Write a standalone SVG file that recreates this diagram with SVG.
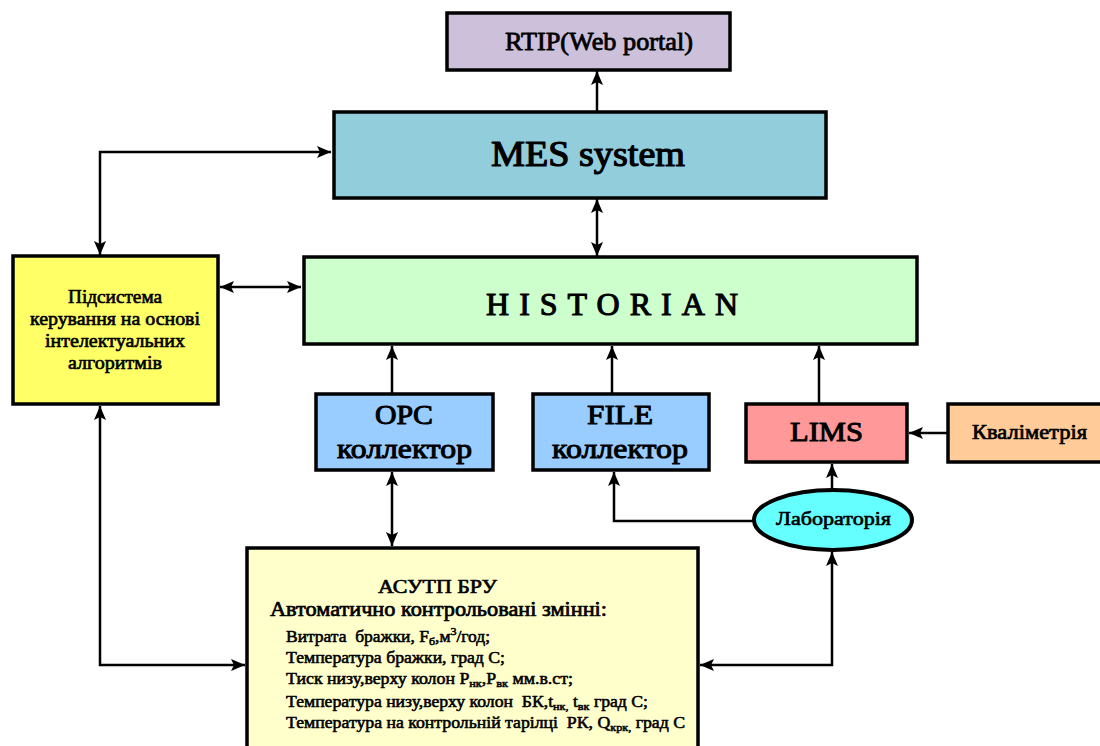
<svg xmlns="http://www.w3.org/2000/svg" width="1100" height="746" viewBox="0 0 1100 746">
<style>
.box{stroke:#000;stroke-width:3.5}
text{font-family:'Liberation Serif','Times New Roman',serif;font-weight:normal;fill:#000;stroke:#000;stroke-linejoin:round}
.c{fill:none;stroke:#000;stroke-width:2.5}
</style>
<defs>
<marker id="ah" markerUnits="userSpaceOnUse" markerWidth="16" markerHeight="14" refX="14" refY="6" orient="auto-start-reverse">
<path d="M0,0 L14,6 L0,12 L3,6 z" fill="#000"/>
</marker>
</defs>
<rect width="1100" height="746" fill="#fff"/>
<g id="connectors">
<path class="c" d="M597,112 L597,71" marker-end="url(#ah)"/>
<path class="c" d="M597,199 L597,256" marker-start="url(#ah)" marker-end="url(#ah)"/>
<path class="c" d="M100,255 L100,152 L331,152" marker-start="url(#ah)" marker-end="url(#ah)"/>
<path class="c" d="M220,287 L301,287" marker-start="url(#ah)" marker-end="url(#ah)"/>
<path class="c" d="M392,393 L392,346" marker-end="url(#ah)"/>
<path class="c" d="M612,393 L612,346" marker-end="url(#ah)"/>
<path class="c" d="M819,403 L819,346" marker-end="url(#ah)"/>
<path class="c" d="M947,433 L909,433" marker-end="url(#ah)"/>
<path class="c" d="M832,490 L832,464" marker-end="url(#ah)"/>
<path class="c" d="M754,521 L614,521 L614,472" marker-end="url(#ah)"/>
<path class="c" d="M392,472 L392,546" marker-start="url(#ah)" marker-end="url(#ah)"/>
<path class="c" d="M100,406 L100,665 L245,665" marker-start="url(#ah)" marker-end="url(#ah)"/>
<path class="c" d="M832,552 L832,665 L700,665" marker-start="url(#ah)" marker-end="url(#ah)"/>
</g>
<g id="rtip">
<rect class="box" x="447" y="13" width="283" height="57" fill="#CCC0DA" stroke-width="3"/>
<text x="505" y="50" font-size="25" stroke-width="0.8" textLength="188" lengthAdjust="spacingAndGlyphs">RTIP(Web portal)</text>
</g>
<g id="mes">
<rect class="box" x="334" y="112" width="492" height="86" fill="#92CDDC" stroke-width="3"/>
<text x="491" y="166" font-size="36" stroke-width="1.2" textLength="194" lengthAdjust="spacingAndGlyphs">MES system</text>
</g>
<g id="historian">
<rect class="box" x="304" y="257" width="613" height="87" fill="#CCFFCC" stroke-width="4"/>
<text x="486" y="315" font-size="32" stroke-width="1.1" textLength="252" lengthAdjust="spacing">HISTORIAN</text>
</g>
<g id="subsystem">
<rect class="box" x="13" y="256" width="205" height="148" fill="#FFFF66" stroke-width="4"/>
<text x="68" y="303" font-size="19" stroke-width="0.65" textLength="94" lengthAdjust="spacingAndGlyphs">Підсистема</text>
<text x="30" y="325" font-size="19" stroke-width="0.65" textLength="170" lengthAdjust="spacingAndGlyphs">керування на основі</text>
<text x="45" y="347" font-size="19" stroke-width="0.65" textLength="140" lengthAdjust="spacingAndGlyphs">інтелектуальних</text>
<text x="68" y="369" font-size="19" stroke-width="0.65" textLength="94" lengthAdjust="spacingAndGlyphs">алгоритмів</text>
</g>
<g id="opc">
<rect class="box" x="316" y="394" width="177" height="76" fill="#99CCFF" stroke-width="4"/>
<text x="375" y="424" font-size="28" stroke-width="1" textLength="58" lengthAdjust="spacingAndGlyphs">OPC</text>
<text x="337" y="458" font-size="28" stroke-width="1" textLength="135" lengthAdjust="spacingAndGlyphs">коллектор</text>
</g>
<g id="file">
<rect class="box" x="533" y="394" width="176" height="76" fill="#99CCFF" stroke-width="4"/>
<text x="587" y="424" font-size="28" stroke-width="1" textLength="66" lengthAdjust="spacingAndGlyphs">FILE</text>
<text x="552" y="458" font-size="28" stroke-width="1" textLength="136" lengthAdjust="spacingAndGlyphs">коллектор</text>
</g>
<g id="lims">
<rect class="box" x="746" y="404" width="161" height="58" fill="#FF9999" stroke-width="4"/>
<text x="790" y="441" font-size="28" stroke-width="1" textLength="73" lengthAdjust="spacingAndGlyphs">LIMS</text>
</g>
<g id="kvalimetria">
<rect class="box" x="948" y="404" width="160" height="58" fill="#FFCC99" stroke-width="4"/>
<text x="972" y="439" font-size="20" stroke-width="0.7" textLength="115" lengthAdjust="spacingAndGlyphs">Кваліметрія</text>
</g>
<g id="laboratoria">
<ellipse cx="833" cy="520" rx="79" ry="30" fill="#66FFFF" stroke="#000" stroke-width="4"/>
<text x="776" y="525" font-size="19" stroke-width="0.65" textLength="115" lengthAdjust="spacingAndGlyphs">Лабораторія</text>
</g>
<g id="asutp">
<rect class="box" x="247" y="548" width="451" height="205" fill="#FFFFCC" stroke-width="4"/>
<text x="378" y="593" font-size="19" stroke-width="0.65" textLength="119" lengthAdjust="spacingAndGlyphs">АСУТП БРУ</text>
<text x="270" y="616" font-size="20" stroke-width="0.7" textLength="337" lengthAdjust="spacingAndGlyphs">Автоматично контрольовані змінні:</text>
<text x="286" y="642" font-size="16" stroke-width="0.55" xml:space="preserve" textLength="204" lengthAdjust="spacingAndGlyphs">Витрата  бражки, F<tspan font-size="11" dy="3">б</tspan><tspan dy="-3">,м</tspan><tspan font-size="11" dy="-7">3</tspan><tspan dy="7">/год;</tspan></text>
<text x="286" y="663" font-size="16" stroke-width="0.55" textLength="219" lengthAdjust="spacingAndGlyphs">Температура бражки, град С;</text>
<text x="286" y="684" font-size="16" stroke-width="0.55" textLength="287" lengthAdjust="spacingAndGlyphs">Тиск низу,верху колон P<tspan font-size="11" dy="3">нк</tspan><tspan dy="-3">,P</tspan><tspan font-size="11" dy="3">вк</tspan><tspan dy="-3"> мм.в.ст;</tspan></text>
<text x="286" y="707" font-size="16" stroke-width="0.55" xml:space="preserve" textLength="362" lengthAdjust="spacingAndGlyphs">Температура низу,верху колон  БК,t<tspan font-size="11" dy="3">нк,</tspan><tspan dy="-3"> t</tspan><tspan font-size="11" dy="3">вк</tspan><tspan dy="-3"> град С;</tspan></text>
<text x="286" y="728" font-size="16" stroke-width="0.55" xml:space="preserve" textLength="399" lengthAdjust="spacingAndGlyphs">Температура на контрольній тарілці  РК, Q<tspan font-size="11" dy="3">крк,</tspan><tspan dy="-3"> град С</tspan></text>
</g>
</svg>
